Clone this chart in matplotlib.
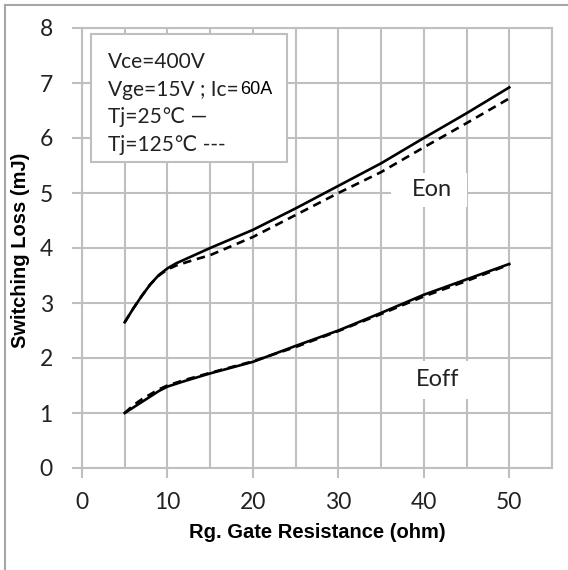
import numpy as np
import matplotlib.pyplot as plt
from matplotlib.patches import Rectangle
from matplotlib.lines import Line2D

# Eon curves (Tj=25C solid, Tj=125C dashed)
rg = [5, 6, 7, 8, 9, 10, 11, 12, 13, 15, 20, 25, 30, 35, 40, 45, 50]
eon_25 = [2.65, 2.9, 3.13, 3.34, 3.51, 3.63, 3.72, 3.79, 3.86, 4.0, 4.33, 4.72, 5.13, 5.54, 6.0, 6.45, 6.92]
eon_125 = [2.65, 2.9, 3.13, 3.34, 3.5, 3.61, 3.68, 3.73, 3.78, 3.87, 4.2, 4.6, 5.0, 5.38, 5.83, 6.27, 6.72]

# Eoff curves
rg_off = [5, 6, 7, 8, 9, 10, 12, 15, 20, 25, 30, 35, 40, 45, 50]
eoff_25 = [1.0, 1.1, 1.2, 1.3, 1.4, 1.48, 1.58, 1.72, 1.93, 2.22, 2.5, 2.82, 3.15, 3.43, 3.71]
eoff_125 = [1.0, 1.14, 1.25, 1.34, 1.43, 1.5, 1.6, 1.73, 1.94, 2.2, 2.49, 2.8, 3.12, 3.4, 3.7]

legend_lines = ["Vce=400V", "Vge=15V ; Ic=", "Tj=25\u2103 \u2014", "Tj=125\u2103 ---"]

NARROW = ['Lato', 'DejaVu Sans']
ARIAL = ['Liberation Sans', 'DejaVu Sans']
GRID = '#bfbfbf'
INK = '#222222'

fig = plt.figure(figsize=(5.68, 5.70), dpi=100)
ax = fig.add_axes([82/568, 1-468/570, 470/568, 440/570])

ax.set_xlim(0, 55)
ax.set_ylim(0, 8)
ax.set_xticks(np.arange(0, 51, 10))
ax.set_xticks(np.arange(5, 56, 10), minor=True)
ax.set_yticks(np.arange(0, 9, 1))
ax.grid(True, which='both', color=GRID, lw=1.5, zorder=0)
ax.set_axisbelow(True)
ax.tick_params(axis='both', which='major', direction='out', length=7, width=1.5,
               color=GRID, labelcolor=INK)
ax.tick_params(axis='both', which='minor', length=0)
ax.tick_params(axis='x', pad=10)
ax.tick_params(axis='y', pad=14)
for lab in ax.get_xticklabels() + ax.get_yticklabels():
    lab.set_fontfamily(NARROW)
    lab.set_fontsize(16.5)
for s in ax.spines.values():
    s.set_color(GRID)
    s.set_linewidth(1.5)

ax.plot(rg, eon_25, color='black', lw=1.9, zorder=4)
ax.plot(rg, eon_125, color='black', lw=1.9, ls=(0, (3.2, 2.2)), zorder=4)
ax.plot(rg_off, eoff_25, color='black', lw=1.9, zorder=4)
ax.plot(rg_off, eoff_125, color='black', lw=1.9, ls=(0, (3.2, 2.2)), zorder=4)

# condition box
ax.add_patch(Rectangle((1.0, 5.56), 23.0, 2.34, facecolor='white', edgecolor=GRID,
                       lw=1.5, zorder=2))
txts = []
for i, t in enumerate(legend_lines):
    txts.append(ax.text(3.05, 7.38 - 0.5*i, t, fontsize=15, family=NARROW, va='center',
                        ha='left', color=INK, zorder=5))
ax.annotate("60A", xy=(1, 0.5), xycoords=txts[1], xytext=(1, 0), textcoords='offset points',
            fontsize=13, family=ARIAL, va='center', ha='left', color='black', zorder=5)

# curve labels with white patches
ax.add_patch(Rectangle((36.2, 4.75), 8.9, 0.62, facecolor='white', edgecolor='none', zorder=2))
ax.text(41.0, 5.06, "Eon", fontsize=17, family=NARROW, ha='center', va='center',
        color=INK, zorder=5)
ax.add_patch(Rectangle((36.8, 1.25), 9.2, 0.7, facecolor='white', edgecolor='none', zorder=2))
ax.text(41.6, 1.6, "Eoff", fontsize=17, family=NARROW, ha='center', va='center',
        color=INK, zorder=5)

ax.set_xlabel("Rg. Gate Resistance (ohm)", fontsize=14.5, fontweight='bold', family=ARIAL)
ax.xaxis.set_label_coords(0.5, -0.125)
fig.text(21/568, 1-250/570, "Switching Loss (mJ)", rotation=90, ha='center', va='center',
         fontsize=14.5, fontweight='bold', family=ARIAL)

# outer frame (left and top)
fig.add_artist(Line2D([5/568, 5/568], [0, 1-5/570], transform=fig.transFigure,
                      color='#a6a6a6', lw=1.5))
fig.add_artist(Line2D([5/568, 1], [1-5/570, 1-5/570], transform=fig.transFigure,
                      color='#a6a6a6', lw=1.5))

fig.savefig('out.png', dpi=100)
